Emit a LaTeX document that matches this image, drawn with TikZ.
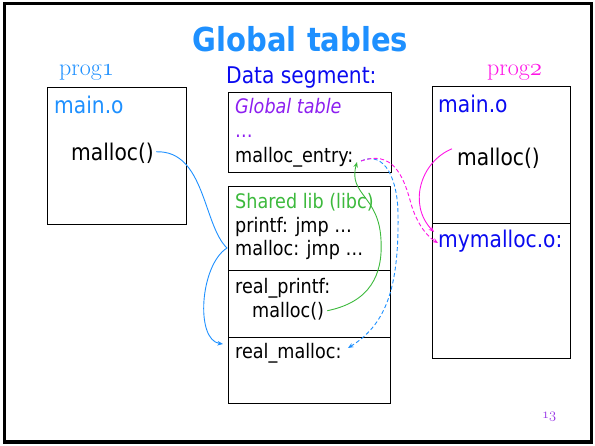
\documentclass[tikz,border=0pt]{standalone}
\usepackage{fontspec}
\newfontfamily\tah{DejaVu Sans}[FakeStretch=0.88]
\usetikzlibrary{arrows.meta,calc}
\definecolor{dblue}{RGB}{30,144,255}
\definecolor{sblue}{RGB}{10,10,240}
\definecolor{vpurple}{RGB}{140,30,240}
\definecolor{lgreen}{RGB}{60,185,60}
\definecolor{mag}{RGB}{255,20,230}
\definecolor{pnum}{RGB}{150,50,230}
\newcommand{\osnum}[1]{{\usefont{OML}{lmm}{m}{it}#1}}
\begin{document}
\begin{tikzpicture}[x=1pt,y=-1pt,
  box/.style={draw=black,line width=1pt},
  txt/.style={anchor=base west,inner sep=0pt,font=\tah\fontsize{23}{27}\selectfont},
  stxt/.style={anchor=base west,inner sep=0pt,font=\tah\fontsize{20}{24}\selectfont},
  sertxt/.style={anchor=base west,inner sep=0pt,font=\fontfamily{lmr}\fontsize{24}{28}\selectfont},
  link/.style={line width=0.9pt,-{Stealth[length=5.5pt,width=4.5pt]}},
  dlink/.style={link,dash pattern=on 4pt off 2.5pt}]
\useasboundingbox (0,0) rectangle (595,445);
\draw[line width=3.5pt] (4.5,3.5) rectangle (591.5,442);

% title and headings
\node[anchor=base,inner sep=0pt,text=dblue,font=\tah\bfseries\fontsize{33}{38}\selectfont] (title) at (300.5,51) {Global tables};
\node[sertxt,text=dblue] (p1) at (59,75) {prog\osnum{1}};
\node[txt,text=sblue] (ds) at (226,83) {Data segment:};
\node[sertxt,text=mag] (p2) at (487,75) {prog\osnum{2}};

% boxes
\draw[box] (47,87) rectangle (186,224);
\draw[box] (228,92) rectangle (391,172);
\draw[box] (228,186) rectangle (390,403);
\draw[box] (228,270) -- (390,270);
\draw[box] (228,337) -- (390,337);
\draw[box] (432,86) rectangle (570,358);
\draw[box] (432,223) -- (570,223);

% prog1 texts
\node[txt,text=dblue] (mo1) at (54,113) {main.o};
\node[txt] (m1) at (71,160) {malloc()};

% data segment texts
\node[stxt,text=vpurple,font=\tah\itshape\fontsize{20}{24}\selectfont] (gt) at (235,113) {Global table};
\node[stxt,text=vpurple] (dots) at (235,137) {…};
\node[stxt] (me) at (235,162) {malloc\_entry:};
\node[stxt,text=lgreen] (sl) at (235,208) {Shared lib (libc)};
\node[stxt] (pf) at (235,232) {printf: jmp …};
\node[stxt] (ml) at (235,255) {malloc: jmp …};
\node[stxt] (rp) at (235,293) {real\_printf:};
\node[stxt] (m3) at (252,317) {malloc()};
\node[stxt] (rm) at (235,358) {real\_malloc:};

% prog2 texts
\node[txt,text=sblue] (mo2) at (438,112) {main.o};
\node[txt] (m2) at (457,165) {malloc()};
\node[txt,text=sblue] (mm) at (438,247) {mymalloc.o:};

% page number
\node[anchor=base west,inner sep=0pt,text=pnum,font=\fontsize{14}{16}\selectfont] (pg) at (542,418) {\osnum{13}};

% waypoints
\coordinate (bulge) at (227,248);
\coordinate (rmIn) at (223,344);
\coordinate (meIn) at (357,162);
\coordinate (meOut) at (361,161);
\coordinate (rmDash) at (348,348);
\coordinate (mmDash) at (438,243);
\coordinate (mmIn) at (434,232);

% connectors
\draw[link,dblue] ($(m1.east)+(2,-1)$) .. controls (205,150) and (203,225) .. (bulge)
   .. controls (200,265) and (195,340) .. (rmIn);
\draw[link,lgreen] ($(m3.east)+(3,0)$) .. controls (370,302) and (383,275) .. (381,240)
   .. controls (379,195) and (348,195) .. (meIn);
\draw[dlink,dblue] (meOut) .. controls (385,150) and (398,180) .. (398,215)
   .. controls (399,290) and (385,325) .. (rmDash);
\draw[dlink,mag] (meOut) .. controls (392,150) and (403,175) .. (410,200)
   .. controls (415,220) and (425,235) .. (mmDash);
\draw[link,mag] ($(m2.west)+(-5,-9)$) .. controls (420,162) and (408,205) .. (mmIn);
\end{tikzpicture}
\end{document}
